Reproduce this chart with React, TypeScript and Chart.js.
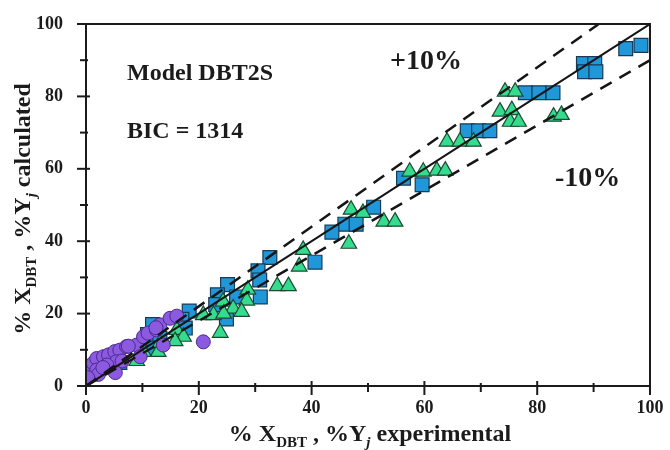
import React, { useEffect, useRef } from 'react';
import { Chart, registerables } from 'chart.js';

Chart.register(...registerables);

// ---- data (x = experimental %, y = calculated %) ----
const squarePoints: number[][] = [
  [95.7, 93.2], [98.4, 94.1],
  [88.2, 89.1], [90.2, 89.1], [88.4, 86.8], [90.4, 86.8],
  [77.9, 81.0], [80.3, 81.0], [82.8, 81.0],
  [67.6, 70.5], [69.6, 70.5], [71.6, 70.5],
  [56.3, 57.4], [59.6, 55.6],
  [51.0, 49.4],
  [45.9, 44.7], [47.9, 44.7],
  [43.6, 42.5],
  [40.6, 34.2],
  [32.6, 35.5],
  [30.5, 31.8], [30.8, 29.3], [30.9, 24.6],
  [25.1, 28.0], [23.3, 25.2], [26.7, 24.6], [23.0, 22.5],
  [24.9, 18.5],
  [18.3, 20.7], [17.0, 18.4], [17.6, 16.0],
  [11.8, 17.0], [10.9, 14.2], [13.1, 13.2], [12.0, 10.5],
  [4.0, 5.5], [6.0, 6.5],
];

const trianglePoints: number[][] = [
  [74.3, 81.3], [76.1, 81.3],
  [73.4, 75.8], [75.5, 76.2], [75.2, 73.0], [76.7, 73.0],
  [82.9, 74.4], [84.3, 74.9],
  [64.0, 67.5], [66.3, 67.5], [68.7, 67.5],
  [57.4, 59.2], [59.8, 59.2], [62.2, 59.5], [63.7, 59.5],
  [47.0, 48.7], [49.1, 47.8],
  [52.8, 45.4], [54.8, 45.4],
  [46.6, 39.3],
  [38.5, 37.6], [37.8, 33.0],
  [33.9, 27.6], [35.9, 27.6],
  [28.7, 26.6], [28.5, 23.6],
  [24.3, 23.3], [26.1, 21.4], [27.6, 20.5],
  [20.8, 19.6], [22.6, 19.6], [24.4, 20.0],
  [23.8, 14.7],
  [16.1, 15.5], [17.3, 13.6], [15.8, 12.4],
  [13.1, 11.8], [12.8, 9.4], [10.2, 9.4],
  [9.0, 6.9],
];

const circlePoints: number[][] = [
  [0.0, 3.0], [0.4, 4.4], [1.3, 6.3], [1.9, 7.6], [3.1, 8.1], [4.0, 8.6],
  [5.1, 9.5], [6.0, 9.9], [7.2, 10.9], [9.0, 11.3], [10.2, 13.6], [11.0, 14.6],
  [12.5, 15.5], [13.1, 16.9], [14.9, 18.7], [16.1, 19.3], [13.7, 11.3],
  [9.6, 8.1], [5.4, 6.7], [3.7, 5.8], [1.9, 4.4], [20.8, 12.2], [6.4, 6.9],
  [2.2, 3.2], [5.2, 3.7], [0.3, 2.3], [3.0, 5.1], [12.4, 16.1], [7.5, 11.0],
];

const axisTicks = [0, 20, 40, 60, 80, 100];
const minorTicks = [10, 30, 50, 70, 90];
const parityRange = [0, 100];
const bandFactors = [1.1, 0.9];

const toXY = (arr: number[][]) => arr.map(([x, y]) => ({ x, y }));

const SERIF = '"Liberation Serif", "Times New Roman", serif';

type Run = { t: string; sub?: boolean; it?: boolean };

function drawRuns(ctx: CanvasRenderingContext2D, runs: Run[], cx: number, baseY: number, size: number) {
  const fontFor = (r: Run) =>
    `${r.it ? 'italic ' : ''}bold ${r.sub ? Math.round(size * 0.62) : size}px ${SERIF}`;
  let total = 0;
  for (const r of runs) {
    ctx.font = fontFor(r);
    total += ctx.measureText(r.t).width;
  }
  let x = cx - total / 2;
  ctx.textAlign = 'left';
  ctx.textBaseline = 'alphabetic';
  for (const r of runs) {
    ctx.font = fontFor(r);
    ctx.fillText(r.t, x, baseY + (r.sub ? size * 0.24 : 0));
    x += ctx.measureText(r.t).width;
  }
}

const xTitle: Run[] = [
  { t: '% X' }, { t: 'DBT', sub: true }, { t: ' , %Y' }, { t: 'j', sub: true, it: true }, { t: ' experimental' },
];
const yTitle: Run[] = [
  { t: '% X' }, { t: 'DBT', sub: true }, { t: ' , %Y' }, { t: 'j', sub: true, it: true }, { t: ' calculated' },
];

const decorPlugin = {
  id: 'decor',
  afterDraw(chart: any) {
    const { ctx, chartArea, scales } = chart;
    const { left, right, top, bottom } = chartArea;
    const xs = scales.x;
    const ys = scales.y;
    ctx.save();
    ctx.strokeStyle = '#1b1b1b';
    ctx.lineWidth = 2;
    ctx.strokeRect(left, top, right - left, bottom - top);
    const drawTick = (v: number, major: boolean) => {
      const px = xs.getPixelForValue(v);
      ctx.beginPath();
      ctx.moveTo(px, bottom - (major ? 5 : 3));
      ctx.lineTo(px, bottom + (major ? 9 : 6));
      ctx.stroke();
      const py = ys.getPixelForValue(v);
      ctx.beginPath();
      ctx.moveTo(left - (major ? 9 : 6), py);
      ctx.lineTo(left + (major ? 4 : 2), py);
      ctx.stroke();
    };
    axisTicks.forEach((v) => drawTick(v, true));
    minorTicks.forEach((v) => drawTick(v, false));

    ctx.fillStyle = '#1b1b1b';
    // axis titles
    drawRuns(ctx, xTitle, (left + right) / 2 + 2, 441, 24);
    ctx.save();
    ctx.translate(30, (top + bottom) / 2 + 4);
    ctx.rotate(-Math.PI / 2);
    drawRuns(ctx, yTitle, 0, 0, 24);
    ctx.restore();

    // annotations
    ctx.textAlign = 'left';
    ctx.textBaseline = 'middle';
    ctx.font = `bold 24px ${SERIF}`;
    ctx.fillText('Model DBT2S', 127, 74);
    ctx.font = `bold 24px ${SERIF}`;
    ctx.fillText('BIC = 1314', 127, 132);
    ctx.font = `bold 28px ${SERIF}`;
    ctx.fillText('+10%', 390, 62);
    ctx.fillText('-10%', 555, 179);
    ctx.restore();
  },
};

export default function App() {
  const ref = useRef<HTMLCanvasElement | null>(null);
  useEffect(() => {
    document.body.style.margin = '0';
    const canvas = ref.current;
    if (!canvas) return;
    const [lo, hi] = parityRange;
    const chart: any = new Chart(canvas, {
      type: 'scatter',
      data: {
        datasets: [
          {
            data: [{ x: lo, y: lo }, { x: hi, y: hi }],
            showLine: true,
            borderColor: '#151515',
            borderWidth: 2,
            pointRadius: 0,
          },
          {
            data: [{ x: lo, y: lo * bandFactors[0] }, { x: hi, y: hi * bandFactors[0] }],
            showLine: true,
            borderColor: '#151515',
            borderWidth: 2.5,
            borderDash: [13, 9],
            pointRadius: 0,
          },
          {
            data: [{ x: lo, y: lo * bandFactors[1] }, { x: hi, y: hi * bandFactors[1] }],
            showLine: true,
            borderColor: '#151515',
            borderWidth: 2.5,
            borderDash: [13, 9],
            pointRadius: 0,
          },
          {
            data: toXY(circlePoints),
            pointStyle: 'circle',
            pointRadius: 7,
            backgroundColor: '#8c5ae0',
            borderColor: '#4a2a8a',
            borderWidth: 1,
          },
          {
            data: toXY(trianglePoints),
            pointStyle: 'triangle',
            pointRadius: 9,
            backgroundColor: '#35dc8e',
            borderColor: '#1c4a32',
            borderWidth: 1.2,
          },
          {
            data: toXY(squarePoints),
            pointStyle: 'rect',
            pointRadius: 9.8,
            backgroundColor: '#1f97d8',
            borderColor: '#183a55',
            borderWidth: 1.2,
          },
        ],
      } as any,
      options: {
        responsive: false,
        animation: false,
        devicePixelRatio: 1,
        layout: { padding: { top: 24, right: 20, left: 0, bottom: 0 } },
        plugins: { legend: { display: false }, tooltip: { enabled: false } },
        scales: {
          x: {
            type: 'linear',
            min: 0,
            max: 100,
            grid: { display: true, drawOnChartArea: false, drawTicks: true, tickLength: 12, color: 'rgba(0,0,0,0)' },
            border: { display: false },
            afterFit: (s: any) => { s.height = 64; },
            afterBuildTicks: (s: any) => { s.ticks = axisTicks.map((v) => ({ value: v })); },
            ticks: {
              color: '#1b1b1b',
              padding: 0,
              font: { family: SERIF, size: 18, weight: 'bold' },
            },
          },
          y: {
            type: 'linear',
            min: 0,
            max: 100,
            grid: { display: true, drawOnChartArea: false, drawTicks: true, tickLength: 23, color: 'rgba(0,0,0,0)' },
            border: { display: false },
            afterFit: (s: any) => { s.width = 86; },
            afterBuildTicks: (s: any) => { s.ticks = axisTicks.map((v) => ({ value: v })); },
            ticks: {
              color: '#1b1b1b',
              padding: 0,
              font: { family: SERIF, size: 18, weight: 'bold' },
            },
          },
        },
      } as any,
      plugins: [decorPlugin],
    });
    return () => chart.destroy();
  }, []);
  return (
    <div style={{ width: 670, height: 450, background: '#fff' }}>
      <canvas ref={ref} width={670} height={450} style={{ display: 'block', width: 670, height: 450 }} />
    </div>
  );
}
